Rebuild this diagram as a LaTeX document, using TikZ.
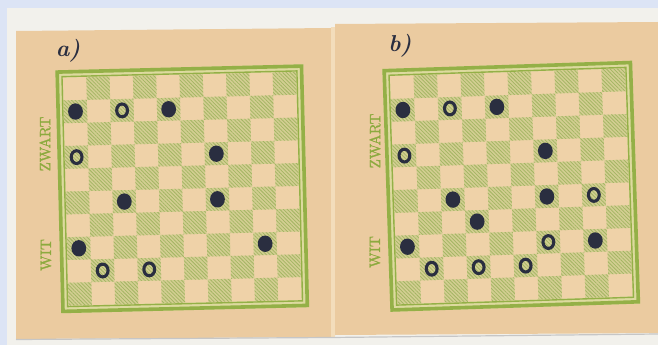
\documentclass[tikz,border=0pt]{standalone}
\usepackage{fontspec}
\newfontfamily\sidefont[FakeBold=1.3]{lmroman10-regular.otf}
\usetikzlibrary{patterns.meta}
\definecolor{bgblue}{HTML}{DCE4F5}
\definecolor{edgewhite}{HTML}{F2F1EC}
\definecolor{paper}{HTML}{EBCBA0}
\definecolor{lightsq}{HTML}{EFD2A8}
\definecolor{darksq}{HTML}{D3CE92}
\definecolor{hatch}{HTML}{A3B562}
\definecolor{framegreen}{HTML}{94B047}
\definecolor{framegap}{HTML}{DDDA9F}
\definecolor{labelgreen}{HTML}{8CAA3E}
\definecolor{ink}{HTML}{2A2E40}
\definecolor{seam}{HTML}{F3DDBB}
\tikzset{
  blackpiece/.style={fill=ink},
  whitepiece/.style={draw=ink, line width=3.1pt},
  sidelabel/.style={text=labelgreen, rotate=90, inner sep=0pt, font=\sidefont\fontsize{15}{15}\selectfont},
  handlabel/.style={text=ink, inner sep=0pt, font=\fontsize{23}{23}\selectfont\bfseries\itshape}
}
% board: #1 cx, #2 cy, #3 angle, #4 W, #5 H
\newcommand{\drawboard}[5]{%
  \begin{scope}[shift={(#1,#2)}, rotate=#3]
    \pgfmathsetmacro{\hw}{#4/2}
    \pgfmathsetmacro{\hh}{#5/2}
    \pgfmathsetmacro{\sw}{(#4-15)/10}
    \pgfmathsetmacro{\sh}{(#5-15)/10}
    \pgfmathsetmacro{\xo}{-\hw+7.5}
    \pgfmathsetmacro{\yo}{-\hh+7.5}
    \fill[framegap] (-\hw,-\hh) rectangle (\hw,\hh);
    \fill[lightsq] (\xo,\yo) rectangle (-\xo,-\yo);
    \foreach \r in {0,...,9}{
      \foreach \k in {0,...,4}{
        \pgfmathtruncatemacro{\c}{2*\k+1-mod(\r,2)}
        \pgfmathsetmacro{\xa}{\xo+\c*\sw}
        \pgfmathsetmacro{\ya}{\yo+\r*\sh}
        \pgfmathsetmacro{\xb}{\xa+\sw}
        \pgfmathsetmacro{\yb}{\ya+\sh}
        \fill[darksq] (\xa,\ya) rectangle (\xb,\yb);
        \fill[pattern={Lines[angle=-45,distance=2.6pt,line width=0.75pt]}, pattern color=hatch] (\xa,\ya) rectangle (\xb,\yb);
      }
    }
    \draw[framegreen, line width=3.6pt] (-\hw+1.8,-\hh+1.8) rectangle (\hw-1.8,\hh-1.8);
    \draw[framegreen, line width=1.4pt] (\xo-1,\yo-1) rectangle (-\xo+1,-\yo+1);
  \end{scope}}
% piece: #1 cx, #2 cy, #3 angle, #4 W, #5 H, #6 row, #7 col, #8 style
\newcommand{\piece}[8]{%
  \begin{scope}[shift={(#1,#2)}, rotate=#3]
    \pgfmathsetmacro{\sw}{(#4-15)/10}
    \pgfmathsetmacro{\sh}{(#5-15)/10}
    \pgfmathsetmacro{\px}{-#4/2+7.5+(#7+0.5)*\sw}
    \pgfmathsetmacro{\py}{-#5/2+7.5+(#6+0.5)*\sh}
    \ifnum#8=1
      \fill[blackpiece] (\px,\py) ellipse [x radius=7.4pt, y radius=8.2pt];
    \else
      \draw[whitepiece] (\px,\py) ellipse [x radius=5.4pt, y radius=6.4pt];
    \fi
  \end{scope}}
\begin{document}
\begin{tikzpicture}[x=1pt,y=-1pt]
\useasboundingbox (0,0) rectangle (658,345);
\fill[bgblue] (0,0) rectangle (658,345);
\fill[edgewhite] (7,8) rectangle (658,345);
% sheets
\fill[paper] (16,31) -- (331,28) -- (331,337) -- (16,339) -- cycle;
\fill[seam] (331,27) rectangle (335,337);
\fill[paper] (335,24) -- (658,22) -- (658,333) -- (335,335) -- cycle;
\draw[gray!45, line width=1.2pt] (16,339.5) -- (331,337.5) -- (658,334);
% boards
\drawboard{182.25}{188.75}{1.4}{248}{243}
\drawboard{511.25}{186.25}{1.9}{250}{243}
% pieces board a
\foreach \r/\c/\t in {1/0/1, 1/2/0, 1/4/1, 3/0/0, 3/6/1, 5/2/1, 5/6/1, 7/0/1, 7/8/1, 8/1/0, 8/3/0}{
  \piece{182.25}{188.75}{1.4}{248}{243}{\r}{\c}{\t}
}
% pieces board b
\foreach \r/\c/\t in {1/0/1, 1/2/0, 1/4/1, 3/0/0, 3/6/1, 5/2/1, 5/6/1, 5/8/0, 6/3/1, 7/0/1, 7/6/0, 7/8/1, 8/1/0, 8/3/0, 8/5/0}{
  \piece{511.25}{186.25}{1.9}{250}{243}{\r}{\c}{\t}
}
% side labels
\node[sidelabel] (zwarta) at (45,144) {ZWART};
\node[sidelabel] (wita) at (46,255) {WIT};
\node[sidelabel] (zwartb) at (375,141) {ZWART};
\node[sidelabel] (witb) at (375,252) {WIT};
% hand labels
\node[handlabel] (la) at (68,51) {a)};
\node[handlabel] (lb) at (400,46) {b)};
\end{tikzpicture}
\end{document}
